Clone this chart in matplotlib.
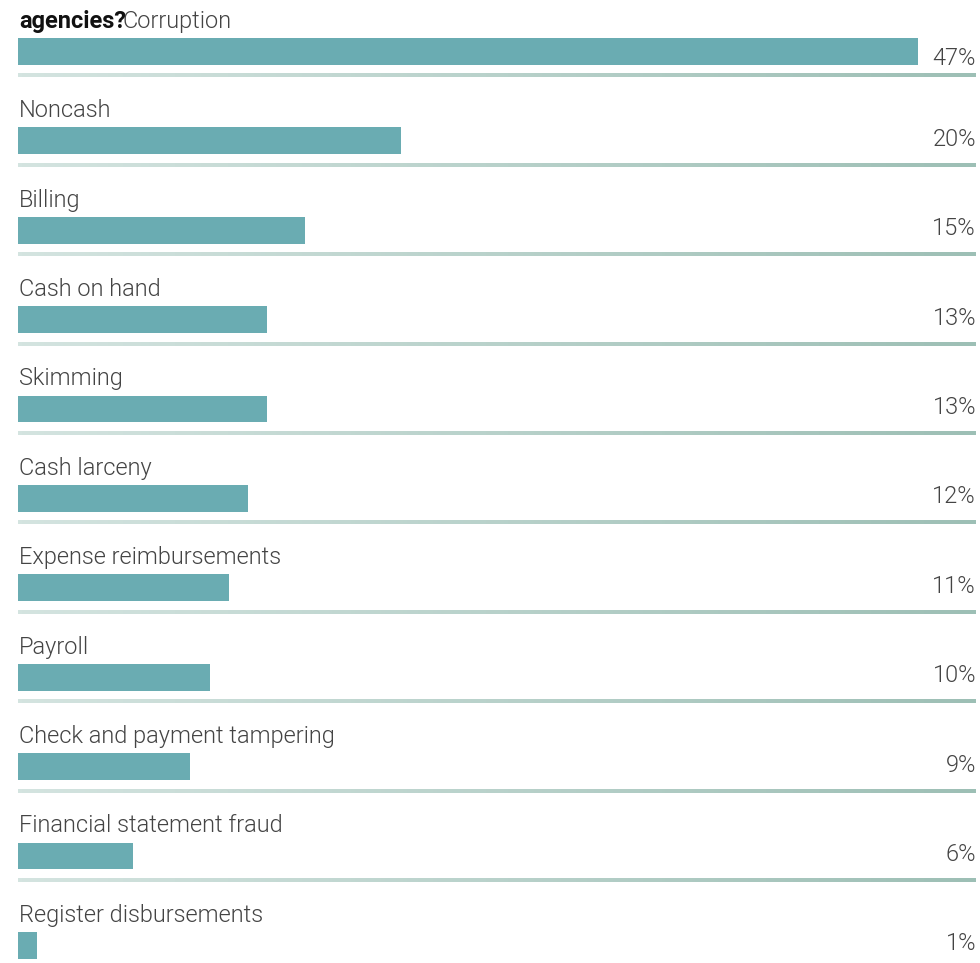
import numpy as np
import matplotlib
matplotlib.use("Agg")
import matplotlib.pyplot as plt
from matplotlib.colors import LinearSegmentedColormap

# Fraud schemes and share of cases
categories = ["Corruption", "Noncash", "Billing", "Cash on hand", "Skimming",
              "Cash larceny", "Expense reimbursements", "Payroll",
              "Check and payment tampering", "Financial statement fraud",
              "Register disbursements"]
values = [47, 20, 15, 13, 13, 12, 11, 10, 9, 6, 1]
value_labels = ["47%", "20%", "15%", "13%", "13%", "12%", "11%", "10%", "9%", "6%", "1%"]

bar_color = "#6aacb2"
text_color = "#444444"
sep_cmap = LinearSegmentedColormap.from_list("sep", ["#d4e4e0", "#9dbfb5"])

plt.rcParams['font.family'] = ['Roboto', 'DejaVu Sans']

fig = plt.figure(figsize=(9.8, 9.63), dpi=100)
ax = fig.add_axes([18 / 980, 0, (976 - 18) / 980, 1])
xmax = (976 - 18) / 19.15
ylims = (10.196, -0.576)
ax.set_xlim(0, xmax)
ax.set_ylim(*ylims)
ax.axis("off")

n = len(categories)
ypos = np.arange(n)
ax.barh(ypos, values, height=0.30, color=bar_color, edgecolor="none")

grad = np.linspace(0, 1, 256).reshape(1, -1)
for i in range(n):
    if i == 0:
        ax.text(0.05, i - 0.265, "agencies?", fontsize=17, fontweight="bold",
                color="#111111", va="baseline", ha="left")
        ax.text(5.45, i - 0.265, categories[i], fontsize=17, fontweight=300,
                color=text_color, va="baseline", ha="left")
        pct_off = 0.15
    else:
        ax.text(0.05, i - 0.265, categories[i], fontsize=17, fontweight=300,
                color=text_color, va="baseline", ha="left")
        pct_off = 0.055
    ax.text(xmax, i + pct_off, value_labels[i], fontsize=17, fontweight=300,
            color=text_color, va="baseline", ha="right")
    if i < n - 1:
        ax.imshow(grad, cmap=sep_cmap, aspect="auto",
                  extent=(0, xmax - 0.05, i + 0.29, i + 0.255), zorder=1)

ax.set_xlim(0, xmax)
ax.set_ylim(*ylims)
fig.savefig("out.png", dpi=100)
